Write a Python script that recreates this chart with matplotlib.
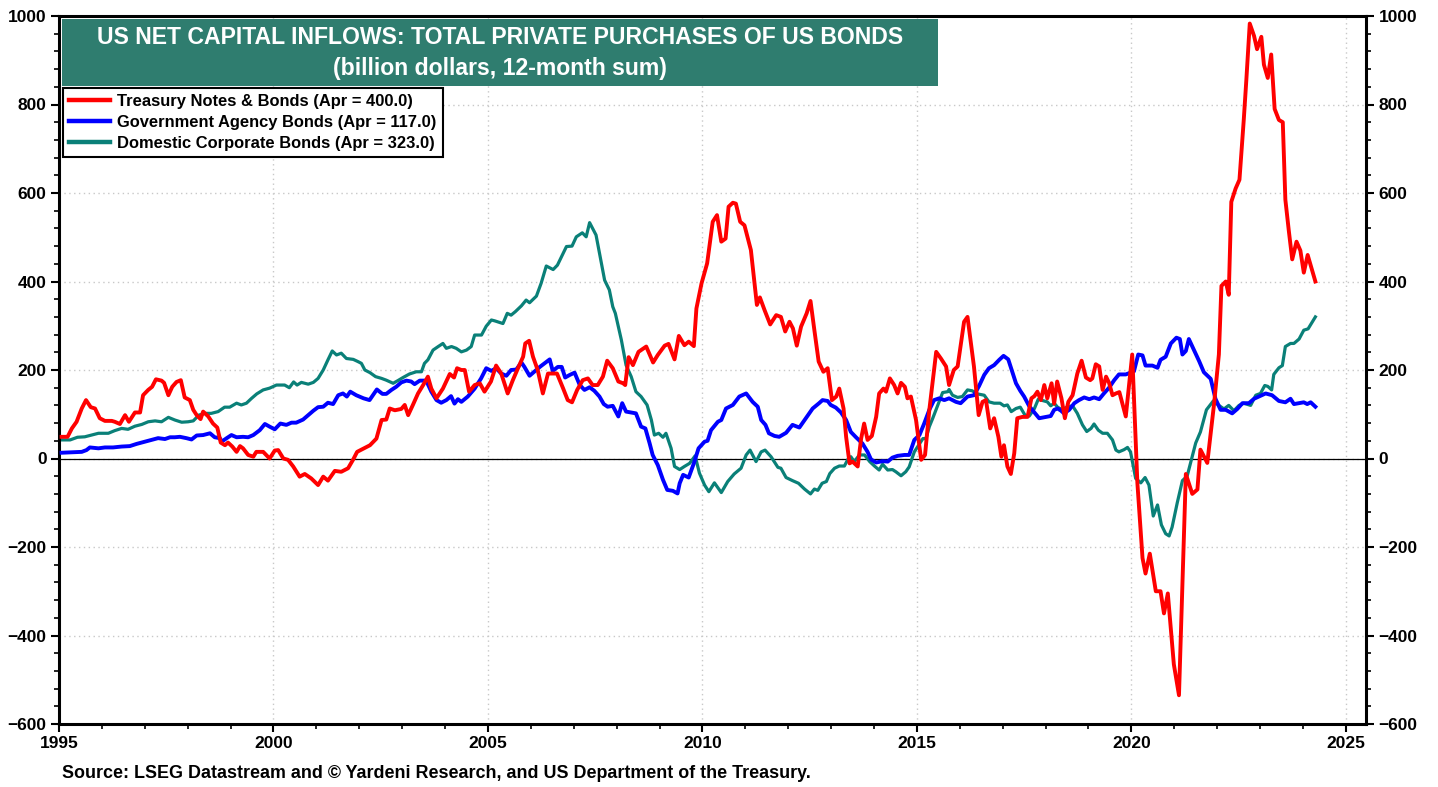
import matplotlib
matplotlib.use("Agg")
import matplotlib.pyplot as plt
from matplotlib.patches import Rectangle
from matplotlib.ticker import MultipleLocator

plt.rcParams['font.family'] = ['Liberation Sans', 'DejaVu Sans']
plt.rcParams['font.weight'] = 'bold'

# --- data (decimal year, billion dollars, 12-month sum) ---
treasury_t = [1995.06, 1995.2, 1995.3, 1995.41, 1995.53, 1995.63, 1995.74, 1995.84, 1995.95, 1996.07,
              1996.23, 1996.3, 1996.42, 1996.54, 1996.63, 1996.77, 1996.89, 1996.96, 1997.08, 1997.17,
              1997.26, 1997.39, 1997.45, 1997.55, 1997.64, 1997.74, 1997.84, 1997.93, 1998.05, 1998.13,
              1998.21, 1998.3, 1998.36, 1998.48, 1998.59, 1998.69, 1998.77, 1998.87, 1998.94, 1999.04,
              1999.14, 1999.22, 1999.29, 1999.41, 1999.53, 1999.6, 1999.76, 1999.91, 2000.03, 2000.11,
              2000.23, 2000.34, 2000.46, 2000.61, 2000.73, 2000.88, 2001.04, 2001.16, 2001.27, 2001.43,
              2001.58, 2001.74, 2001.86, 2001.95, 2002.11, 2002.25, 2002.4, 2002.52, 2002.63, 2002.71,
              2002.83, 2002.98, 2003.06, 2003.14, 2003.25, 2003.37, 2003.49, 2003.6, 2003.68, 2003.8,
              2003.95, 2004.11, 2004.21, 2004.28, 2004.38, 2004.46, 2004.56, 2004.69, 2004.81, 2004.92,
              2005.07, 2005.19, 2005.31, 2005.46, 2005.58, 2005.7, 2005.82, 2005.87, 2005.96, 2006.05,
              2006.16, 2006.28, 2006.4, 2006.51, 2006.61, 2006.75, 2006.86, 2006.96, 2007.08, 2007.21,
              2007.33, 2007.44, 2007.56, 2007.68, 2007.78, 2007.91, 2008.04, 2008.15, 2008.2, 2008.28,
              2008.38, 2008.51, 2008.69, 2008.85, 2008.96, 2009.12, 2009.21, 2009.35, 2009.45, 2009.58,
              2009.68, 2009.8, 2009.86, 2009.98, 2010.11, 2010.24, 2010.34, 2010.44, 2010.54, 2010.61,
              2010.71, 2010.78, 2010.88, 2010.98, 2011.13, 2011.27, 2011.34, 2011.45, 2011.58, 2011.72,
              2011.83, 2011.93, 2012.03, 2012.11, 2012.2, 2012.3, 2012.43, 2012.52, 2012.61, 2012.71,
              2012.82, 2012.92, 2013.02, 2013.12, 2013.19, 2013.29, 2013.35, 2013.43, 2013.5, 2013.62,
              2013.7, 2013.77, 2013.85, 2013.95, 2014.05, 2014.12, 2014.22, 2014.28, 2014.37, 2014.47,
              2014.55, 2014.63, 2014.72, 2014.78, 2014.86, 2014.98, 2015.1, 2015.19, 2015.29, 2015.45,
              2015.56, 2015.68, 2015.75, 2015.86, 2015.95, 2016.05, 2016.1, 2016.18, 2016.26, 2016.33,
              2016.44, 2016.53, 2016.61, 2016.71, 2016.8, 2016.9, 2016.97, 2017.03, 2017.11, 2017.19,
              2017.27, 2017.34, 2017.46, 2017.58, 2017.67, 2017.74, 2017.81, 2017.89, 2017.97, 2018.04,
              2018.14, 2018.2, 2018.27, 2018.37, 2018.45, 2018.53, 2018.63, 2018.74, 2018.84, 2018.94,
              2019.04, 2019.09, 2019.17, 2019.25, 2019.33, 2019.41, 2019.48, 2019.56, 2019.64, 2019.72,
              2019.87, 2020.02, 2020.14, 2020.26, 2020.33, 2020.43, 2020.57, 2020.68, 2020.76, 2020.85,
              2020.99, 2021.11, 2021.27, 2021.42, 2021.54, 2021.61, 2021.77, 2021.93, 2022.04, 2022.1,
              2022.2, 2022.27, 2022.33, 2022.43, 2022.52, 2022.62, 2022.68, 2022.76, 2022.86, 2022.93,
              2023.03, 2023.09, 2023.18, 2023.26, 2023.34, 2023.44, 2023.53, 2023.59, 2023.67, 2023.75,
              2023.85, 2023.94, 2024.02, 2024.11, 2024.29]
treasury_v = [49, 49, 68, 83, 113, 132, 116, 113, 91, 85,
              85, 83, 78, 98, 83, 104, 104, 143, 155, 162,
              179, 176, 171, 143, 162, 173, 177, 138, 132, 110,
              98, 89, 106, 95, 79, 70, 36, 30, 36, 27,
              15, 28, 23, 8, 4, 15, 15, 0, 18, 19,
              0, -3, -18, -41, -35, -45, -60, -41, -50, -28,
              -30, -22, -2, 15, 23, 30, 45, 87, 88, 113,
              109, 112, 121, 98, 121, 147, 166, 185, 158, 136,
              158, 191, 183, 204, 200, 200, 151, 166, 170, 151,
              174, 210, 192, 147, 177, 204, 230, 260, 266, 230,
              200, 147, 192, 192, 192, 159, 132, 127, 155, 177,
              181, 166, 166, 185, 221, 204, 174, 170, 166, 229,
              211, 241, 253, 217, 234, 255, 259, 224, 277, 256,
              264, 254, 339, 396, 441, 535, 550, 490, 497, 569,
              578, 576, 535, 527, 471, 347, 364, 335, 303, 324,
              320, 287, 309, 294, 255, 298, 328, 356, 290, 219,
              196, 204, 132, 140, 158, 113, 49, -11, -7, -18,
              45, 79, 42, 51, 94, 147, 158, 151, 181, 166,
              147, 171, 162, 136, 140, 87, -3, 8, 110, 241,
              226, 208, 166, 200, 208, 275, 309, 320, 260, 208,
              98, 128, 132, 68, 91, 49, 4, 30, -18, -35,
              12, 91, 94, 94, 136, 141, 151, 132, 166, 136,
              170, 124, 174, 136, 91, 128, 143, 192, 221, 183,
              177, 181, 213, 208, 155, 185, 171, 143, 147, 150,
              95, 235, -55, -225, -260, -215, -300, -300, -350, -305,
              -465, -535, -35, -80, -70, 20, -10, 125, 235, 390,
              400, 370, 580, 610, 630, 765, 855, 983, 955, 925,
              953, 890, 860, 913, 790, 765, 760, 585, 515, 450,
              490, 470, 420, 460, 400]

agency_t = [1995.06, 1995.29, 1995.53, 1995.64, 1995.72, 1995.92, 1996.07, 1996.26, 1996.46, 1996.65,
            1996.81, 1997.0, 1997.16, 1997.31, 1997.47, 1997.59, 1997.7, 1997.82, 1997.97, 1998.09,
            1998.21, 1998.36, 1998.52, 1998.63, 1998.75, 1998.79, 1998.91, 1999.02, 1999.14, 1999.29,
            1999.41, 1999.53, 1999.68, 1999.8, 1999.91, 2000.03, 2000.16, 2000.3, 2000.42, 2000.53,
            2000.69, 2000.81, 2000.93, 2001.04, 2001.16, 2001.27, 2001.39, 2001.51, 2001.62, 2001.71,
            2001.79, 2001.93, 2002.1, 2002.24, 2002.41, 2002.54, 2002.63, 2002.75, 2002.86, 2002.98,
            2003.1, 2003.21, 2003.29, 2003.41, 2003.56, 2003.68, 2003.8, 2003.91, 2004.03, 2004.14,
            2004.22, 2004.3, 2004.38, 2004.53, 2004.69, 2004.84, 2004.96, 2005.08, 2005.19, 2005.31,
            2005.43, 2005.54, 2005.66, 2005.78, 2005.85, 2005.97, 2006.1, 2006.21, 2006.32, 2006.44,
            2006.51, 2006.63, 2006.72, 2006.8, 2006.91, 2007.02, 2007.14, 2007.25, 2007.37, 2007.48,
            2007.6, 2007.7, 2007.79, 2007.91, 2008.04, 2008.13, 2008.22, 2008.34, 2008.45, 2008.57,
            2008.67, 2008.77, 2008.84, 2008.96, 2009.08, 2009.18, 2009.31, 2009.42, 2009.47, 2009.55,
            2009.68, 2009.8, 2009.91, 2010.05, 2010.12, 2010.2, 2010.36, 2010.44, 2010.55, 2010.71,
            2010.86, 2011.02, 2011.17, 2011.29, 2011.37, 2011.47, 2011.55, 2011.68, 2011.79, 2011.95,
            2012.1, 2012.26, 2012.41, 2012.57, 2012.72, 2012.8, 2012.92, 2012.99, 2013.11, 2013.23,
            2013.35, 2013.46, 2013.58, 2013.73, 2013.85, 2013.93, 2014.05, 2014.2, 2014.32, 2014.43,
            2014.55, 2014.71, 2014.82, 2014.94, 2015.06, 2015.17, 2015.29, 2015.4, 2015.52, 2015.64,
            2015.75, 2015.91, 2016.02, 2016.18, 2016.33, 2016.45, 2016.57, 2016.68, 2016.8, 2016.92,
            2017.02, 2017.13, 2017.21, 2017.31, 2017.41, 2017.5, 2017.62, 2017.74, 2017.85, 2018.01,
            2018.12, 2018.2, 2018.28, 2018.36, 2018.43, 2018.55, 2018.67, 2018.78, 2018.9, 2019.02,
            2019.13, 2019.25, 2019.36, 2019.48, 2019.6, 2019.71, 2019.87, 2020.06, 2020.16, 2020.26,
            2020.33, 2020.49, 2020.61, 2020.68, 2020.8, 2020.92, 2021.05, 2021.13, 2021.19, 2021.27,
            2021.34, 2021.46, 2021.58, 2021.69, 2021.85, 2021.96, 2022.08, 2022.2, 2022.35, 2022.47,
            2022.59, 2022.74, 2022.86, 2022.97, 2023.13, 2023.28, 2023.44, 2023.59, 2023.71, 2023.79,
            2023.91, 2024.02, 2024.1, 2024.18, 2024.29]
agency_v = [13, 14, 15, 19, 25, 23, 25, 25, 27, 28,
            33, 38, 42, 46, 44, 48, 48, 49, 46, 43,
            52, 53, 57, 48, 46, 38, 46, 53, 48, 49,
            48, 53, 64, 78, 72, 66, 79, 76, 81, 81,
            88, 98, 108, 116, 117, 126, 123, 143, 147, 140,
            151, 143, 136, 132, 156, 146, 146, 155, 162, 172,
            176, 174, 168, 176, 176, 151, 132, 126, 132, 141,
            124, 134, 128, 140, 158, 181, 204, 198, 204, 192,
            187, 200, 201, 217, 207, 187, 198, 207, 215, 224,
            198, 207, 207, 183, 189, 194, 166, 155, 161, 153,
            140, 123, 117, 119, 95, 125, 106, 104, 102, 72,
            68, 34, 8, -15, -48, -71, -73, -79, -56, -37,
            -43, -11, 23, 38, 40, 64, 83, 87, 113, 121,
            140, 147, 128, 117, 87, 76, 57, 51, 49, 58,
            76, 70, 91, 113, 125, 132, 130, 121, 115, 104,
            87, 60, 48, 34, 15, -2, -9, -6, -7, 2,
            6, 8, 8, 42, 53, 79, 110, 132, 136, 132,
            136, 128, 125, 140, 143, 164, 189, 204, 211, 223,
            232, 224, 200, 170, 153, 140, 118, 104, 91, 94,
            96, 110, 113, 108, 102, 110, 125, 132, 138, 134,
            138, 134, 147, 160, 177, 190, 190, 197, 235, 233,
            210, 210, 205, 223, 230, 260, 273, 270, 235, 243,
            270, 245, 220, 195, 180, 135, 110, 110, 102, 112,
            125, 125, 135, 140, 147, 143, 130, 127, 135, 123,
            125, 127, 123, 127, 117]

corporate_t = [1995.06, 1995.26, 1995.43, 1995.6, 1995.76, 1995.92, 1996.15, 1996.3, 1996.46, 1996.61,
               1996.77, 1996.93, 1997.08, 1997.24, 1997.39, 1997.55, 1997.7, 1997.86, 1998.01, 1998.13,
               1998.26, 1998.4, 1998.55, 1998.71, 1998.86, 1998.98, 1999.14, 1999.25, 1999.37, 1999.49,
               1999.61, 1999.76, 1999.91, 2000.07, 2000.26, 2000.37, 2000.47, 2000.55, 2000.65, 2000.81,
               2000.93, 2001.04, 2001.16, 2001.27, 2001.37, 2001.47, 2001.58, 2001.7, 2001.86, 2001.97,
               2002.05, 2002.13, 2002.25, 2002.38, 2002.52, 2002.63, 2002.79, 2002.9, 2003.02, 2003.17,
               2003.33, 2003.45, 2003.52, 2003.6, 2003.72, 2003.84, 2003.95, 2004.03, 2004.15, 2004.26,
               2004.38, 2004.5, 2004.61, 2004.69, 2004.85, 2004.96, 2005.08, 2005.16, 2005.35, 2005.45,
               2005.54, 2005.64, 2005.78, 2005.89, 2005.97, 2006.13, 2006.24, 2006.36, 2006.52, 2006.62,
               2006.71, 2006.83, 2006.96, 2007.06, 2007.2, 2007.29, 2007.37, 2007.52, 2007.6, 2007.72,
               2007.83, 2007.91, 2007.97, 2008.04, 2008.11, 2008.22, 2008.34, 2008.45, 2008.57, 2008.71,
               2008.81, 2008.88, 2008.98, 2009.08, 2009.15, 2009.27, 2009.35, 2009.47, 2009.58, 2009.7,
               2009.83, 2009.93, 2010.05, 2010.15, 2010.28, 2010.44, 2010.59, 2010.74, 2010.9, 2011.02,
               2011.11, 2011.25, 2011.37, 2011.46, 2011.6, 2011.76, 2011.83, 2011.95, 2012.1, 2012.24,
               2012.38, 2012.52, 2012.61, 2012.69, 2012.79, 2012.89, 2012.97, 2013.08, 2013.19, 2013.31,
               2013.39, 2013.46, 2013.54, 2013.66, 2013.78, 2013.9, 2014.01, 2014.12, 2014.2, 2014.32,
               2014.43, 2014.51, 2014.63, 2014.74, 2014.82, 2014.94, 2015.02, 2015.14, 2015.21, 2015.29,
               2015.37, 2015.48, 2015.6, 2015.72, 2015.75, 2015.83, 2015.95, 2016.06, 2016.18, 2016.29,
               2016.41, 2016.57, 2016.68, 2016.8, 2016.94, 2017.03, 2017.11, 2017.2, 2017.31, 2017.41,
               2017.52, 2017.62, 2017.74, 2017.83, 2017.93, 2018.04, 2018.12, 2018.2, 2018.28, 2018.39,
               2018.51, 2018.63, 2018.74, 2018.86, 2018.96, 2019.06, 2019.13, 2019.23, 2019.33, 2019.44,
               2019.56, 2019.64, 2019.71, 2019.83, 2019.91, 2019.98, 2020.1, 2020.22, 2020.32, 2020.41,
               2020.51, 2020.61, 2020.7, 2020.8, 2020.88, 2020.95, 2021.07, 2021.19, 2021.3, 2021.38,
               2021.5, 2021.61, 2021.75, 2021.91, 2022.04, 2022.16, 2022.27, 2022.39, 2022.51, 2022.62,
               2022.78, 2022.9, 2023.01, 2023.11, 2023.18, 2023.27, 2023.32, 2023.44, 2023.52, 2023.59,
               2023.71, 2023.79, 2023.91, 2024.02, 2024.12, 2024.29]
corporate_v = [42, 42, 48, 49, 53, 57, 57, 63, 68, 66,
               73, 77, 83, 85, 83, 93, 87, 82, 83, 85,
               98, 102, 102, 106, 116, 116, 125, 121, 125, 136,
               146, 155, 159, 166, 166, 160, 173, 166, 172, 168,
               172, 181, 200, 223, 243, 234, 238, 226, 224, 219,
               215, 200, 194, 185, 181, 177, 170, 176, 183, 191,
               196, 196, 215, 223, 245, 253, 260, 249, 253, 249,
               241, 245, 253, 279, 279, 299, 313, 311, 305, 328,
               324, 332, 345, 358, 352, 367, 396, 435, 427, 437,
               455, 479, 480, 501, 510, 501, 533, 505, 464, 403,
               381, 343, 328, 298, 268, 211, 185, 151, 140, 121,
               87, 53, 57, 48, 57, 23, -18, -25, -18, -11,
               6, -33, -60, -75, -55, -77, -52, -35, -22, 8,
               19, -7, 15, 19, 4, -20, -22, -43, -50, -56,
               -69, -80, -69, -72, -56, -52, -34, -22, -17, -17,
               -2, 4, -7, 8, 8, -7, -17, -26, -13, -26,
               -25, -30, -39, -30, -19, 15, 27, 45, 45, 72,
               91, 119, 149, 151, 156, 143, 138, 140, 155, 153,
               146, 143, 128, 125, 125, 119, 121, 106, 113, 116,
               98, 96, 113, 134, 131, 128, 119, 125, 116, 110,
               117, 119, 102, 76, 61, 68, 78, 64, 57, 57,
               42, 19, 15, 20, 25, 15, -45, -55, -43, -60,
               -130, -105, -150, -170, -175, -155, -100, -50, -40, -10,
               35, 60, 110, 130, 120, 112, 120, 108, 120, 125,
               120, 143, 147, 165, 163, 155, 190, 205, 210, 253,
               260, 260, 270, 290, 293, 320]

xmin, xmax = 1995, 2025.47
ymin, ymax = -600, 1000

fig = plt.figure(figsize=(14.38, 7.87), dpi=100)
ax = fig.add_axes([59 / 1438, 1 - 724 / 787, 1307 / 1438, 708 / 787])

ax.plot(treasury_t, treasury_v, color='#FF0000', lw=2.8, solid_joinstyle='round',
        label='Treasury Notes & Bonds (Apr = 400.0)', zorder=4)
ax.plot(agency_t, agency_v, color='#0000FF', lw=2.8, solid_joinstyle='round',
        label='Government Agency Bonds (Apr = 117.0)', zorder=3)
ax.plot(corporate_t, corporate_v, color='#0A8078', lw=2.3, solid_joinstyle='round',
        label='Domestic Corporate Bonds (Apr = 323.0)', zorder=2)

ax.axhline(0, color='black', lw=0.9, zorder=1.8)

ax.set_xlim(xmin, xmax)
ax.set_ylim(ymin, ymax)
ax.set_xticks([1995, 2000, 2005, 2010, 2015, 2020, 2025])
ax.xaxis.set_minor_locator(MultipleLocator(1))
ax.set_yticks(range(-600, 1001, 200))
ax.yaxis.set_minor_locator(MultipleLocator(40))
ax.grid(True, which='major', color='#C8C8C8', linestyle=(0, (1, 2.5)), lw=1.0)

ax.tick_params(axis='both', which='major', direction='out', length=6, width=1.5,
               labelsize=12.5, pad=3)
ax.tick_params(axis='both', which='minor', direction='out', length=3.5, width=1.2)
ax.tick_params(axis='y', which='both', left=True, right=True, labelleft=True, labelright=True)
for lab in ax.get_xticklabels() + ax.get_yticklabels():
    lab.set_fontweight('bold')
for sp in ax.spines.values():
    sp.set_linewidth(2.2)

# title box
ax.add_patch(Rectangle((0.0025, 0.9015), 0.670, 0.094, transform=ax.transAxes,
                       facecolor='#2F7D6F', edgecolor='none', zorder=5))
ax.text(0.3375, 0.970, 'US NET CAPITAL INFLOWS: TOTAL PRIVATE PURCHASES OF US BONDS',
        transform=ax.transAxes, ha='center', va='center', color='white',
        fontsize=16.6, fontweight='bold', zorder=6)
ax.text(0.3375, 0.926, '(billion dollars, 12-month sum)',
        transform=ax.transAxes, ha='center', va='center', color='white',
        fontsize=16.6, fontweight='bold', zorder=6)

leg = ax.legend(loc='upper left', bbox_to_anchor=(0.003, 0.898), frameon=True, fancybox=False,
                edgecolor='black', facecolor='white', framealpha=1, borderpad=0.35,
                labelspacing=0.36, handlelength=2.5, handletextpad=0.45, borderaxespad=0,
                prop={'size': 11.9, 'weight': 'bold'})
leg.get_frame().set_linewidth(1.5)
for line in leg.get_lines():
    line.set_linewidth(3.2)
leg.set_zorder(6)

fig.text(62 / 1438, 1 - 773 / 787,
         'Source: LSEG Datastream and \u00a9 Yardeni Research, and US Department of the Treasury.',
         ha='left', va='center', fontsize=12.9, fontweight='bold')

fig.savefig('out.png', dpi=100)
